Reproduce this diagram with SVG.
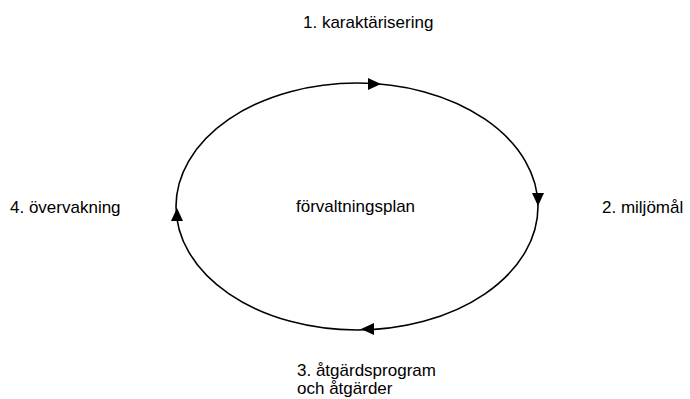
<svg xmlns="http://www.w3.org/2000/svg" width="690" height="399" viewBox="0 0 690 399">
<style>
text{font-family:"Liberation Sans",Arial,sans-serif;font-size:17px;fill:#000}
.c{fill:none;stroke:#000;stroke-width:1.6}
.a{fill:#000}
</style>
<rect width="690" height="399" fill="#fff"/>
<g id="connectors">
<ellipse class="c" cx="357" cy="206.5" rx="181" ry="123.5"/>
<polygon class="a" points="381,84 368,78 368,90"/>
<polygon class="a" points="538,206 532,193 544,193"/>
<polygon class="a" points="177,208 171,221 183,221"/>
<polygon class="a" points="361,329 374,323 374,335"/>
</g>
<g id="n1"><text x="303" y="28">1. karaktärisering</text></g>
<g id="n2"><text x="602" y="213">2. miljömål</text></g>
<g id="n3"><text x="297" y="376">3. åtgärdsprogram</text><text x="297" y="394">och åtgärder</text></g>
<g id="n4"><text x="10" y="213">4. övervakning</text></g>
<g id="center"><text x="296" y="212">förvaltningsplan</text></g>
</svg>
